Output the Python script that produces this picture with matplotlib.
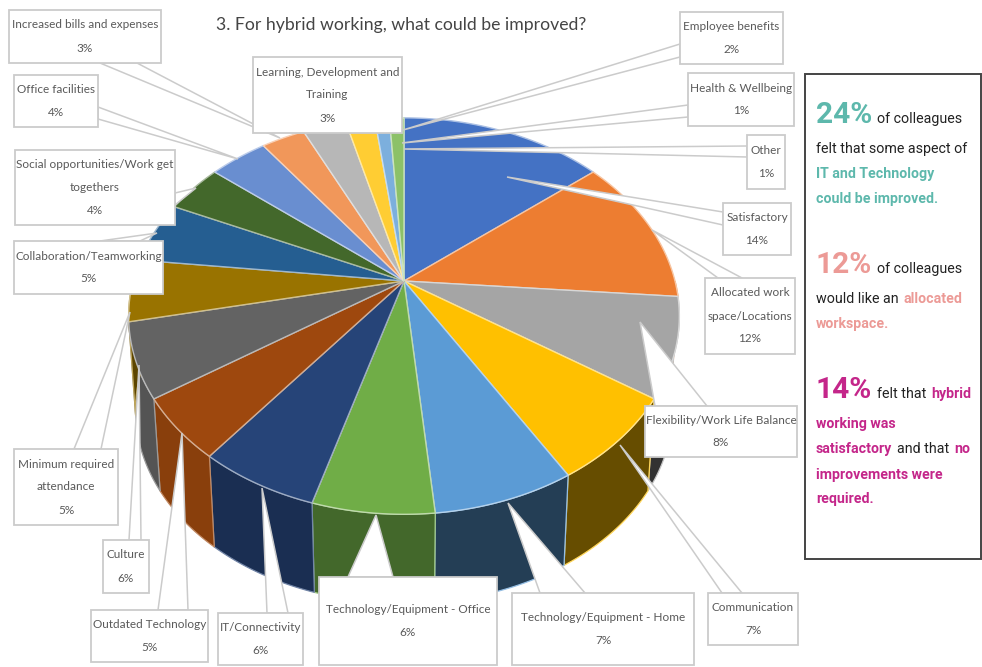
import numpy as np
import matplotlib
matplotlib.use('Agg')
import matplotlib.pyplot as plt
from matplotlib.colors import to_rgb
from matplotlib.patches import Polygon, Rectangle

categories = ['Satisfactory', 'Allocated work\nspace/Locations', 'Flexibility/Work Life Balance',
              'Communication', 'Technology/Equipment - Home', 'Technology/Equipment - Office',
              'IT/Connectivity', 'Outdated Technology', 'Culture', 'Minimum required\nattendance',
              'Collaboration/Teamworking', 'Social opportunities/Work get\ntogethers',
              'Office facilities', 'Increased bills and expenses',
              'Learning, Development and\nTraining', 'Employee benefits',
              'Health & Wellbeing', 'Other']
percent = [14, 12, 8, 7, 7, 6, 6, 5, 6, 5, 5, 4, 4, 3, 3, 2, 1, 1]

colors = ['#4472C4', '#ED7D31', '#A5A5A5', '#FFC000', '#5B9BD5', '#70AD47',
          '#264478', '#9E480E', '#636363', '#997300', '#255E91', '#43682B',
          '#698ED0', '#F1975A', '#B7B7B7', '#FFCD33', '#7CAFDD', '#8CC168']
# how dark the side wall of each slice gets
wall_shade = [.5, .5, .3, .4, .4, .6, .68, .87, .85, .6, .5, .5, .5, .5, .5, .5, .5, .5]

# label box: left, top, right, bottom, then callout base and tip
callouts = [
    (723, 203, 791, 255, (723, 212), (723, 225), (507, 177)),
    (705, 278, 795, 354, (718, 278), (742, 278), (652, 230)),
    (645, 406, 797, 457, (655, 406), (707, 406), (640, 322)),
    (708, 593, 798, 645, (722, 593), (742, 593), (620, 445)),
    (512, 593, 694, 665, (540, 593), (585, 593), (508, 503)),
    (319, 577, 497, 665, (348, 577), (393, 577), (376, 515)),
    (218, 613, 303, 665, (267, 613), (288, 613), (262, 488)),
    (91, 610, 208, 662, (158, 610), (188, 610), (182, 433)),
    (103, 540, 149, 593, (129, 540), (141, 540), (139, 365)),
    (14, 449, 118, 525, (74, 449), (101, 449), (130, 312)),
    (14, 241, 163, 294, (100, 241), (140, 241), (157, 233)),
    (15, 150, 175, 225, (175, 193), (175, 205), (196, 188)),
    (14, 75, 98, 127, (98, 107), (98, 119), (238, 159)),
    (9, 10, 161, 63, (100, 63), (137, 63), (280, 138)),
    (253, 57, 402, 133, (300, 133), (340, 133), (340, 133)),
    (680, 12, 783, 64, (680, 44), (680, 57), (403, 130)),
    (688, 73, 794, 126, (688, 105), (688, 117), (402, 143)),
    (747, 135, 785, 189, (747, 146), (747, 157), (404, 149)),
]

cx, cy = 404, 281
rx, ry, persp = 271, 192, 0.177
depth, base_scale = 95, 0.975


def rim(theta, drop=0, scale=1):
    # perspective view of the circle, angle runs clockwise from the top
    u, v = np.sin(theta), np.cos(theta)
    w = 1 + persp * v
    return cx + scale * rx * u / w, cy + drop - scale * ry * v / w


def blend(color, amount, other=(1, 1, 1)):
    c = np.array(to_rgb(color))
    return tuple(c * (1 - amount) + np.array(other) * amount)


fig = plt.figure(figsize=(9.82, 6.67), dpi=100)
ax = fig.add_axes([0, 0, 1, 1])
ax.set_xlim(0, 982)
ax.set_ylim(667, 0)
ax.axis('off')

edges = np.cumsum([0] + percent) / sum(percent) * 2 * np.pi

# side walls on the near half only
for i in range(len(percent)):
    lo, hi = max(edges[i], np.pi * .5), min(edges[i + 1], np.pi * 1.55)
    if hi <= lo:
        continue
    t = np.linspace(lo, hi, 40)
    x1, y1 = rim(t)
    x2, y2 = rim(t[::-1], depth, base_scale)
    ax.fill(np.r_[x1, x2], np.r_[y1, y2], color=blend(colors[i], 1 - wall_shade[i], (0, 0, 0)),
            ec=blend(colors[i], .35), lw=.9, zorder=2)

# top face
for i in range(len(percent)):
    t = np.linspace(edges[i], edges[i + 1], 40)
    x, y = rim(t)
    ax.fill(np.r_[cx, x], np.r_[cy, y], color=colors[i], ec=blend(colors[i], .55), lw=1, zorder=3)

line_grey = '#cbcbcb'
text_grey = '#595959'
z = 4
for name, pct, box in zip(categories, percent, callouts):
    left, top, right, bottom, b1, b2, tip = box
    ax.add_patch(Polygon([b1, tip, b2], closed=True, fc='white', ec=line_grey, lw=1.1, zorder=z))
    ax.add_patch(Rectangle((left, top), right - left, bottom - top, fc='white', ec=line_grey, lw=1.3, zorder=z + .1))
    lines = name.split('\n') + [str(pct) + '%']
    step = 23
    y0 = (top + bottom) / 2 - step * (len(lines) - 1) / 2
    for k, s in enumerate(lines):
        ax.text((left + right) / 2, y0 + k * step, s, ha='center', va='center', family='Lato',
                fontsize=8.5, color=text_grey, zorder=z + .2)
    z += 1

ax.text(401, 25, '3. For hybrid working, what could be improved?', ha='center', va='center',
        family='Lato', fontsize=12.7, color='#444444')

# text panel on the right
ax.add_patch(Rectangle((805, 74), 176, 485, fc='white', ec='#444444', lw=1.4))

teal, salmon, pink = '#5DB8AC', '#EC9A96', '#C4268A'
panel_rows = [
    (123, [('24%', teal, 'big'), ('of colleagues', '#222222', 'reg')]),
    (153, [('felt that some aspect of', '#222222', 'reg')]),
    (178, [('IT and Technology', teal, 'bold')]),
    (203, [('could be improved.', teal, 'bold')]),
    (273, [('12%', salmon, 'big'), ('of colleagues', '#222222', 'reg')]),
    (303, [('would like an', '#222222', 'reg'), ('allocated', salmon, 'bold')]),
    (328, [('workspace.', salmon, 'bold')]),
    (398, [('14%', pink, 'big'), ('felt that', '#222222', 'reg'), ('hybrid', pink, 'bold')]),
    (428, [('working was', pink, 'bold')]),
    (453, [('satisfactory', pink, 'bold'), ('and that', '#222222', 'reg'), ('no', pink, 'bold')]),
    (479, [('improvements were', pink, 'bold')]),
    (503, [('required.', pink, 'bold')]),
]
fig.canvas.draw()
renderer = fig.canvas.get_renderer()
for baseline, spans in panel_rows:
    x = 816
    for s, col, kind in spans:
        size = {'big': 21.5, 'reg': 10.3, 'bold': 10.2}[kind]
        txt = ax.text(x, baseline, s, color=col, fontsize=size, fontweight='normal' if kind == 'reg' else 'bold',
                      family='Roboto', ha='left', va='baseline')
        x += txt.get_window_extent(renderer).width + 5

fig.savefig('out.png', dpi=100)
